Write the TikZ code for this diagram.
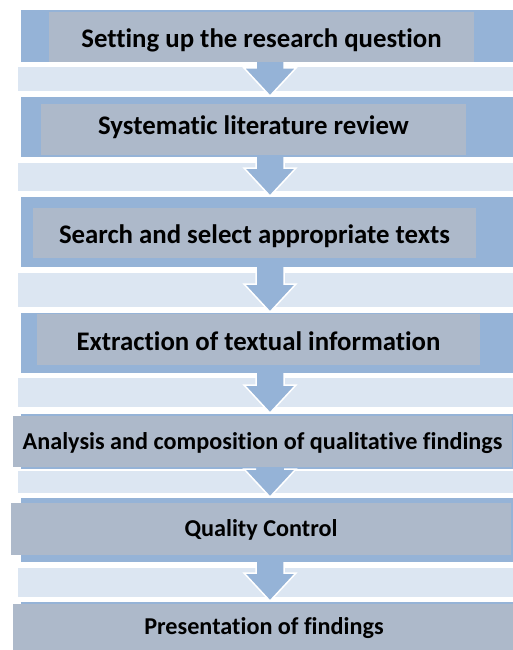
\documentclass[tikz,border=0pt]{standalone}
\usepackage{fontspec}
\setmainfont{Carlito}[Ligatures=NoCommon]
\usetikzlibrary{calc}
\definecolor{barblue}{HTML}{95B3D7}
\definecolor{barlight}{HTML}{DCE6F2}
\definecolor{boxgrey}{HTML}{ADB9CA}
\tikzset{
  band/.style={fill=barblue, draw=white, line width=0.6pt, inner sep=0pt, outer sep=0pt, anchor=north west},
  gapband/.style={fill=barlight, draw=white, line width=0.6pt, inner sep=0pt, outer sep=0pt, anchor=north west},
  stage/.style={fill=boxgrey, inner sep=0pt, outer sep=0pt, anchor=north west},
  % text box is exactly one cap height tall, so the capitals sit centred
  stagetext/.style={font=\bfseries\fontsize{26.8}{30}\selectfont, text=black, inner sep=0pt, text height=16.9pt, text depth=0pt},
  stagetextsmall/.style={font=\bfseries\fontsize{24.2}{28}\selectfont, text=black, inner sep=0pt, text height=15.3pt, text depth=0pt},
  arrowfill/.style={fill=barblue},
  arrowedge/.style={draw=white, line width=1.5pt, line join=miter}
}
% block arrow from the bottom of one band to the top of the next
\newcommand{\flowarrow}[2]{%
  \fill[arrowfill] let \p1=(#1.south), \p2=(#2.north) in
    ({\x1-14pt},\y1) -- ({\x1-14pt},{\y2+28pt}) -- ({\x1-26pt},{\y2+28pt}) -- (\x1,\y2)
    -- ({\x1+26pt},{\y2+28pt}) -- ({\x1+14pt},{\y2+28pt}) -- ({\x1+14pt},\y1) -- cycle;
  \draw[arrowedge] let \p1=(#1.south), \p2=(#2.north) in
    ({\x1-14pt},\y1) -- ({\x1-14pt},{\y2+28pt}) -- ({\x1-26pt},{\y2+28pt}) -- (\x1,\y2)
    -- ({\x1+26pt},{\y2+28pt}) -- ({\x1+14pt},{\y2+28pt}) -- ({\x1+14pt},\y1);
}
\begin{document}
\begin{tikzpicture}[x=1pt,y=-1pt]
\useasboundingbox (0,0) rectangle (513,650);
\fill[white] (0,0) rectangle (513,650);

% blue bands
\node[band, minimum width=500pt, minimum height=53pt] (b1) at (20,9) {};
\node[band, minimum width=500pt, minimum height=61pt] (b2) at (20,96) {};
\node[band, minimum width=500pt, minimum height=71pt] (b3) at (20,196) {};
\node[band, minimum width=500pt, minimum height=61pt] (b4) at (20,312) {};
\node[band, minimum width=500pt, minimum height=56pt] (b5) at (20,413) {};
\node[band, minimum width=500pt, minimum height=65pt] (b6) at (20,497) {};
\node[band, minimum width=500pt, minimum height=60pt] (b7) at (20,601) {};

% light bands between the steps
\node[gapband, minimum width=503pt, minimum height=25pt] (g1) at (17,66) {};
\node[gapband, minimum width=503pt, minimum height=29pt] (g2) at (17,162) {};
\node[gapband, minimum width=503pt, minimum height=35pt] (g3) at (17,272) {};
\node[gapband, minimum width=503pt, minimum height=30pt] (g4) at (17,377) {};
\node[gapband, minimum width=503pt, minimum height=23pt] (g5) at (17,470) {};
\node[gapband, minimum width=503pt, minimum height=30pt] (g6) at (17,567) {};

% arrows
\flowarrow{b1}{b2}
\flowarrow{b2}{b3}
\flowarrow{b3}{b4}
\flowarrow{b4}{b5}
\flowarrow{b5}{b6}
\flowarrow{b6}{b7}

% step boxes
\node[stage, minimum width=425pt, minimum height=50pt] (s1) at (49,12) {};
\node[stage, minimum width=425pt, minimum height=51pt] (s2) at (41,104) {};
\node[stage, minimum width=443pt, minimum height=50pt] (s3) at (33,208) {};
\node[stage, minimum width=443pt, minimum height=51pt] (s4) at (37,314) {};
\node[stage, minimum width=499pt, minimum height=51pt] (s5) at (13,416) {};
\node[stage, minimum width=500pt, minimum height=52pt] (s6) at (11,503) {};
\node[stage, minimum width=502pt, minimum height=51pt] (s7) at (13,604) {};

% step labels
\node[stagetext, yshift=-2.2pt] (t1) at (s1.center) {Setting up the research question};
\node[stagetext, yshift=3.7pt] (t2) at (s2.center) {Systematic literature review};
\node[stagetext, yshift=-1.7pt] (t3) at (s3.center) {Search and select appropriate texts};
\node[stagetext, yshift=-2.5pt] (t4) at (s4.center) {Extraction of textual information};
\node[stagetextsmall, yshift=-0.5pt] (t5) at (s5.center) {Analysis and composition of qualitative findings};
\node[stagetextsmall] (t6) at (s6.center) {Quality Control};
\node[stagetextsmall, yshift=2.5pt] (t7) at (s7.center) {Presentation of findings};
\end{tikzpicture}
\end{document}
